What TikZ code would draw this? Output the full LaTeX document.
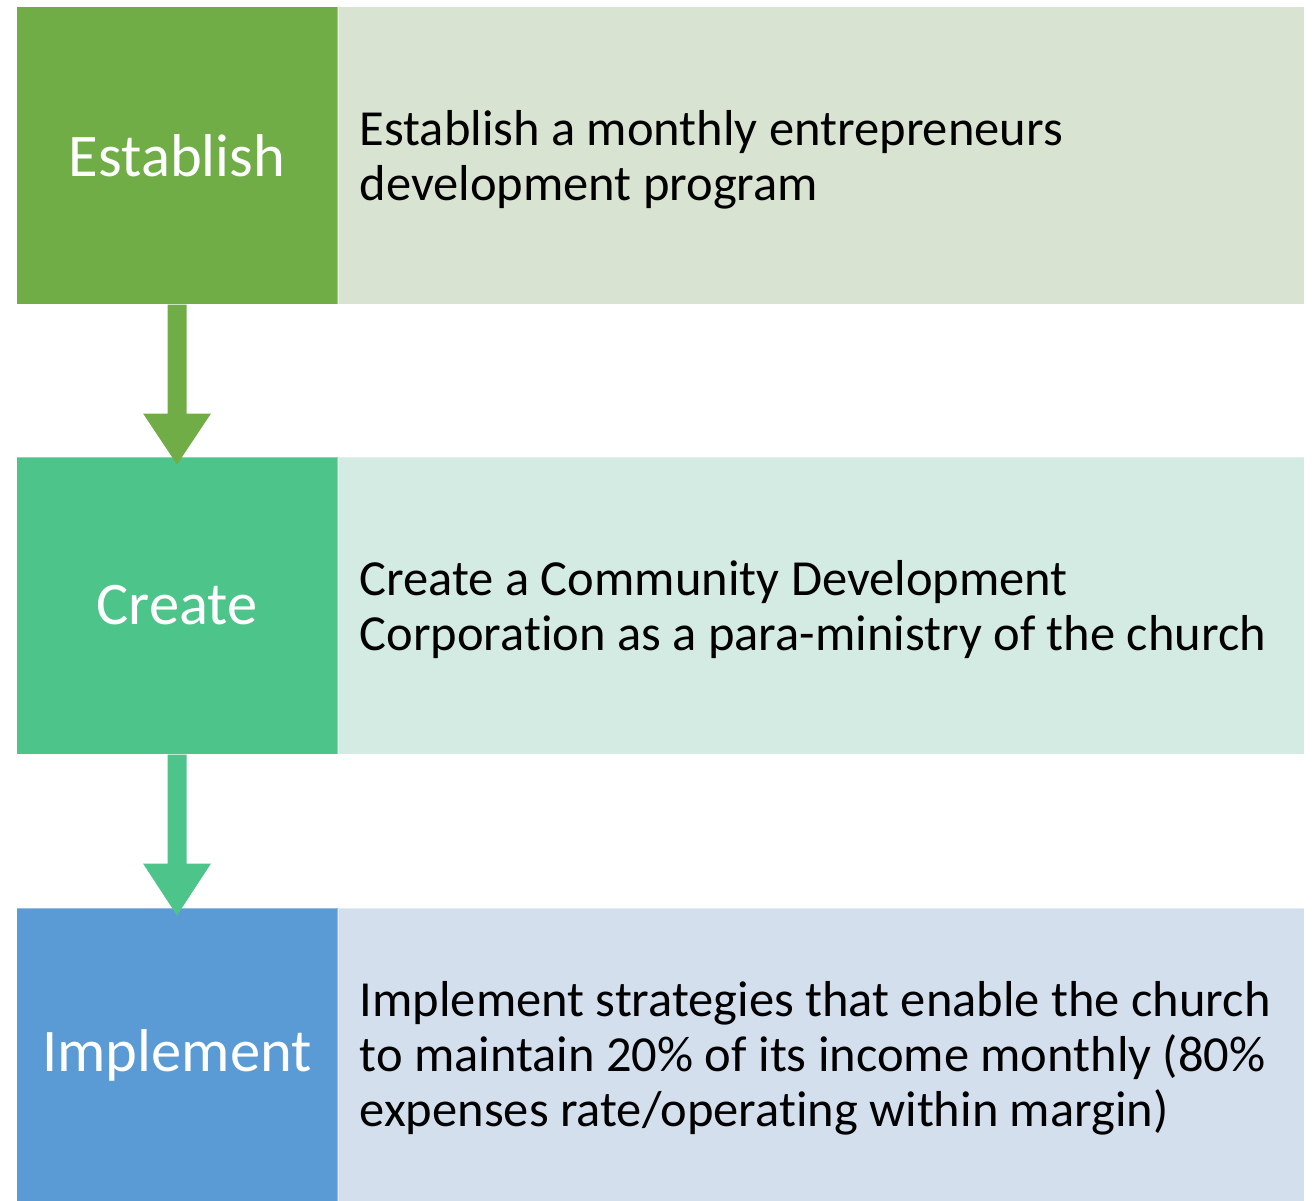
\documentclass[tikz,border=0pt]{standalone}
\usepackage{fontspec}
\setmainfont{Carlito}[Ligatures=CommonOff]
\usetikzlibrary{calc}
\definecolor{darkA}{HTML}{70AD47}
\definecolor{lightA}{HTML}{D9E3D2}
\definecolor{darkB}{HTML}{4CC48A}
\definecolor{lightB}{HTML}{D3EBE2}
\definecolor{darkC}{HTML}{5B9BD5}
\definecolor{lightC}{HTML}{D4DFEE}
\tikzset{
  labelbox/.style={rectangle, minimum width=321pt, minimum height=297pt, inner sep=0pt,
    text=white, font=\fontsize{60.5}{72}\selectfont, draw=white, draw opacity=0.35, line width=1pt},
  textbox/.style={rectangle, minimum width=966pt, minimum height=297pt, inner sep=0pt,
    draw=white, draw opacity=0.35, line width=1pt},
  bodytext/.style={inner sep=0pt, align=left, text=black, font=\fontsize{50.5}{55}\selectfont},
  labeltext/.style={inner sep=0pt, text=white, font=\fontsize{60.5}{72}\selectfont},
}
\begin{document}
\begin{tikzpicture}[x=1pt,y=-1pt]
\useasboundingbox (0,0) rectangle (1312,1201);
\begin{scope}
\clip (0,0) rectangle (1312,1201);
% row 1
\node[labelbox, fill=darkA] (l1) at (177,155.5) {Establish};
\node[textbox, fill=lightA, anchor=west] (r1) at (337.5,155.5) {};
\node[bodytext, anchor=west] (t1) at ([xshift=22pt,yshift=-4pt]r1.west) {Establish a monthly entrepreneurs\\development program};
% row 2
\node[labelbox, fill=darkB] (l2) at (177,605.5) {Create};
\node[textbox, fill=lightB, anchor=west] (r2) at (337.5,605.5) {};
\node[bodytext, anchor=west] (t2) at ([xshift=22pt,yshift=-4pt]r2.west) {Create a Community Development\\Corporation as a para-ministry of the church};
% row 3
\node[labelbox, fill=darkC] (l3) at (177,1056.5) {};
\node[textbox, fill=lightC, anchor=west] (r3) at (337.5,1056.5) {};
\node[bodytext, anchor=west] (t3) at ([xshift=22pt,yshift=-2pt]r3.west) {Implement strategies that enable the church\\to maintain 20\% of its income monthly (80\%\\expenses rate/operating within margin)};
\node[labeltext] (l3t) at (177,1055.5) {Implement};
% arrows
\fill[darkA] ([xshift=-9.5pt]l1.south) -- ([xshift=-9.5pt,yshift=-109pt]l1.south)
  -- ([xshift=-34pt,yshift=-109pt]l1.south) -- ([yshift=-8pt]l2.north)
  -- ([xshift=34pt,yshift=-109pt]l1.south) -- ([xshift=9.5pt,yshift=-109pt]l1.south)
  -- ([xshift=9.5pt]l1.south) -- cycle;
\fill[darkB] ([xshift=-9.5pt]l2.south) -- ([xshift=-9.5pt,yshift=-109pt]l2.south)
  -- ([xshift=-34pt,yshift=-109pt]l2.south) -- ([yshift=-8pt]l3.north)
  -- ([xshift=34pt,yshift=-109pt]l2.south) -- ([xshift=9.5pt,yshift=-109pt]l2.south)
  -- ([xshift=9.5pt]l2.south) -- cycle;
\end{scope}
\end{tikzpicture}
\end{document}
